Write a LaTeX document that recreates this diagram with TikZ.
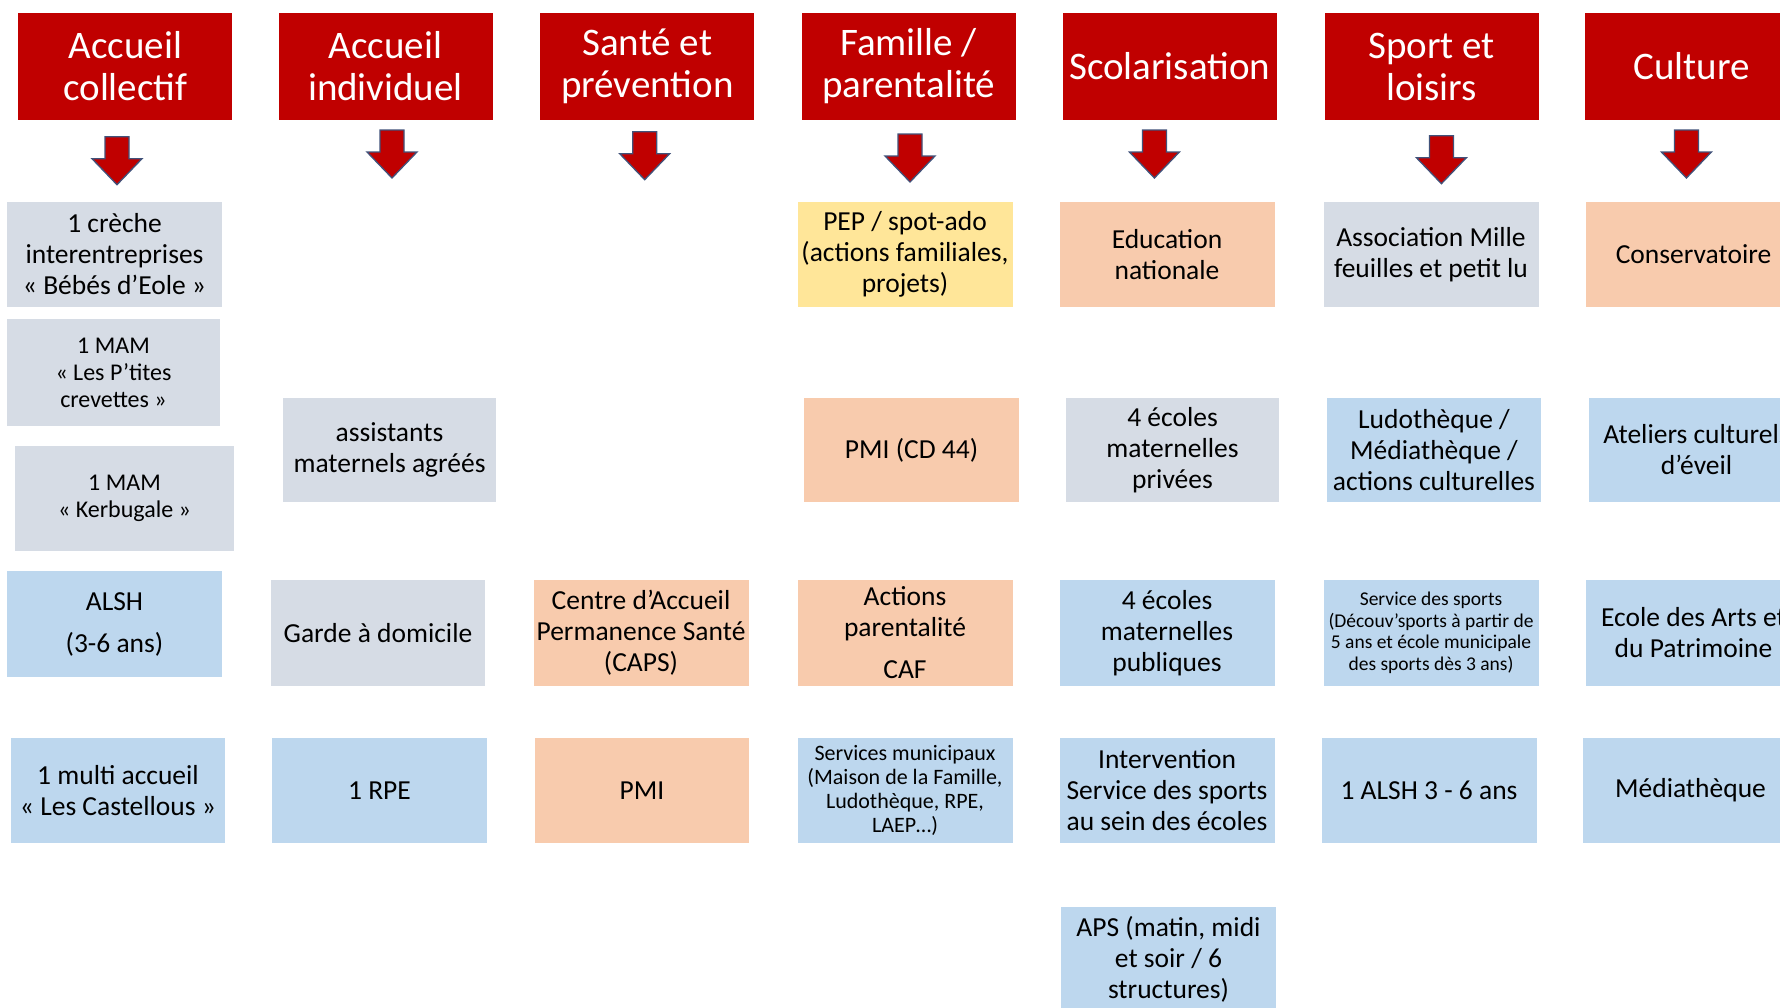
\documentclass[tikz,border=0pt]{standalone}
\usepackage{fontspec}
\setmainfont{Carlito}
\definecolor{rouge}{HTML}{C00000}
\definecolor{contour}{HTML}{41527A}
\definecolor{grisbleu}{HTML}{D6DCE5}
\definecolor{bleuclair}{HTML}{BDD7EE}
\definecolor{saumon}{HTML}{F8CBAD}
\definecolor{jaune}{HTML}{FFE699}
\begin{document}
\begin{tikzpicture}[x=1pt, y=-1pt,
	titre/.style={fill=rouge, text=white, minimum width=214pt, minimum height=107pt, inner sep=0pt, align=center, font=\fontsize{39}{42}\selectfont},
	boite/.style={minimum width=215pt, minimum height=105pt, inner sep=0pt, align=center, font=\fontsize{27.5}{31}\selectfont},
	gris/.style={boite, fill=grisbleu},
	bleu/.style={boite, fill=bleuclair},
	orange/.style={boite, fill=saumon},
	jaun/.style={boite, fill=jaune},
	fleche/.style={fill=rouge, draw=contour, line width=1.3pt, line join=miter}]

	\useasboundingbox (0,0) rectangle (1780,1007);

%titres
	\foreach \x/\name/\txt in {125.4/accol/{Accueil\\collectif}, 385.5/acind/{Accueil\\individuel}, 647.3/sante/{Santé et\\prévention}, 908.6/famille/{Famille /\\parentalité}, 1169.7/scol/{Scolarisation}, 1431.6/sport/{Sport et\\loisirs}, 1691.5/culture/{Culture}} {
		\node[titre] (\name) at (\x, 66.5) {\txt};
	}

%fleches
	\foreach \x/\y in {117/136.7, 392/130, 644.7/131.7, 910/134, 1154.4/130, 1441.4/135.7, 1686.4/130} {
		\draw[fleche] (\x-12, \y) -- (\x+12, \y) -- (\x+12, \y+22) -- (\x+25, \y+22) -- (\x, \y+48) -- (\x-25, \y+22) -- (\x-12, \y+22) -- cycle;
	}

%accueil collectif
	\node[gris] (creche) at (114.5, 254.5) {1 crèche\\interentreprises\\« Bébés d’Eole »};
	\node[gris, minimum width=213pt, minimum height=107pt, font=\fontsize{24}{27}\selectfont] (mamcrevettes) at (113.5, 372.5) {1 MAM\\« Les P’tites\\crevettes »};
	\node[gris, minimum width=219pt, font=\fontsize{24}{27}\selectfont] (mamkerbugale) at (124.5, 498.5) {1 MAM\\« Kerbugale »};
	\node[bleu, minimum height=106pt] (alsh) at (114.5, 624) {ALSH\\[11pt](3-6 ans)};
	\node[bleu, minimum width=214pt] (multiaccueil) at (118, 790.5) {1 multi accueil\\« Les Castellous »};

%accueil individuel
	\node[gris, minimum width=213pt, minimum height=104pt] (assmat) at (389.5, 450) {assistants\\maternels agréés};
	\node[gris, minimum width=214pt, minimum height=106pt] (garde) at (378, 633) {Garde à domicile};
	\node[bleu] (rpe) at (379.5, 790.5) {1 RPE};

%sante
	\node[orange, minimum height=106pt] (caps) at (641, 633) {Centre d’Accueil\\Permanence Santé\\(CAPS)};
	\node[orange, minimum width=214pt] (pmi) at (642, 790.5) {PMI};

%famille
	\node[jaun] (pep) at (905, 254.5) {PEP / spot-ado\\(actions familiales,\\projets)};
	\node[orange, minimum height=104pt] (pmicd) at (911.5, 450) {PMI (CD 44)};
	\node[orange, minimum height=106pt] (actionscaf) at (905, 633) {Actions\\parentalité\\[11pt]CAF};
	\node[bleu, font=\fontsize{22}{24}\selectfont] (servmun) at (905, 790.5) {Services municipaux\\(Maison de la Famille,\\Ludothèque, RPE,\\LAEP…)};

%scolarisation
	\node[orange] (educnat) at (1167, 254.5) {Education\\nationale};
	\node[gris, minimum width=213pt, minimum height=104pt] (ecpriv) at (1172.5, 450) {4 écoles\\maternelles\\privées};
	\node[bleu, minimum height=106pt] (ecpub) at (1167, 633) {4 écoles\\maternelles\\publiques};
	\node[bleu] (intervsport) at (1167, 790.5) {Intervention\\Service des sports\\au sein des écoles};
	\node[bleu] (aps) at (1168.5, 959.5) {APS (matin, midi\\et soir / 6\\structures)};

%sport
	\node[gris] (millefeuilles) at (1431, 254.5) {Association Mille\\feuilles et petit lu};
	\node[bleu, minimum width=214pt, minimum height=104pt] (ludo) at (1434, 450) {Ludothèque /\\Médiathèque /\\actions culturelles};
	\node[bleu, minimum height=106pt, font=\fontsize{19.5}{21.5}\selectfont] (servsport) at (1431, 633) {Service des sports\\(Découv’sports à partir de\\5 ans et école municipale\\des sports dès 3 ans)};
	\node[bleu] (alshsport) at (1429, 790.5) {1 ALSH 3 - 6 ans};

%culture
	\node[orange] (conserv) at (1693.5, 254.5) {Conservatoire};
	\node[bleu, minimum height=104pt] (ateliers) at (1696.5, 450) {Ateliers culturels\\d’éveil};
	\node[bleu, minimum height=106pt] (artspat) at (1693.5, 633) {Ecole des Arts et\\du Patrimoine};
	\node[bleu] (mediatheque) at (1690.5, 790.5) {Médiathèque};

\end{tikzpicture}
\end{document}
